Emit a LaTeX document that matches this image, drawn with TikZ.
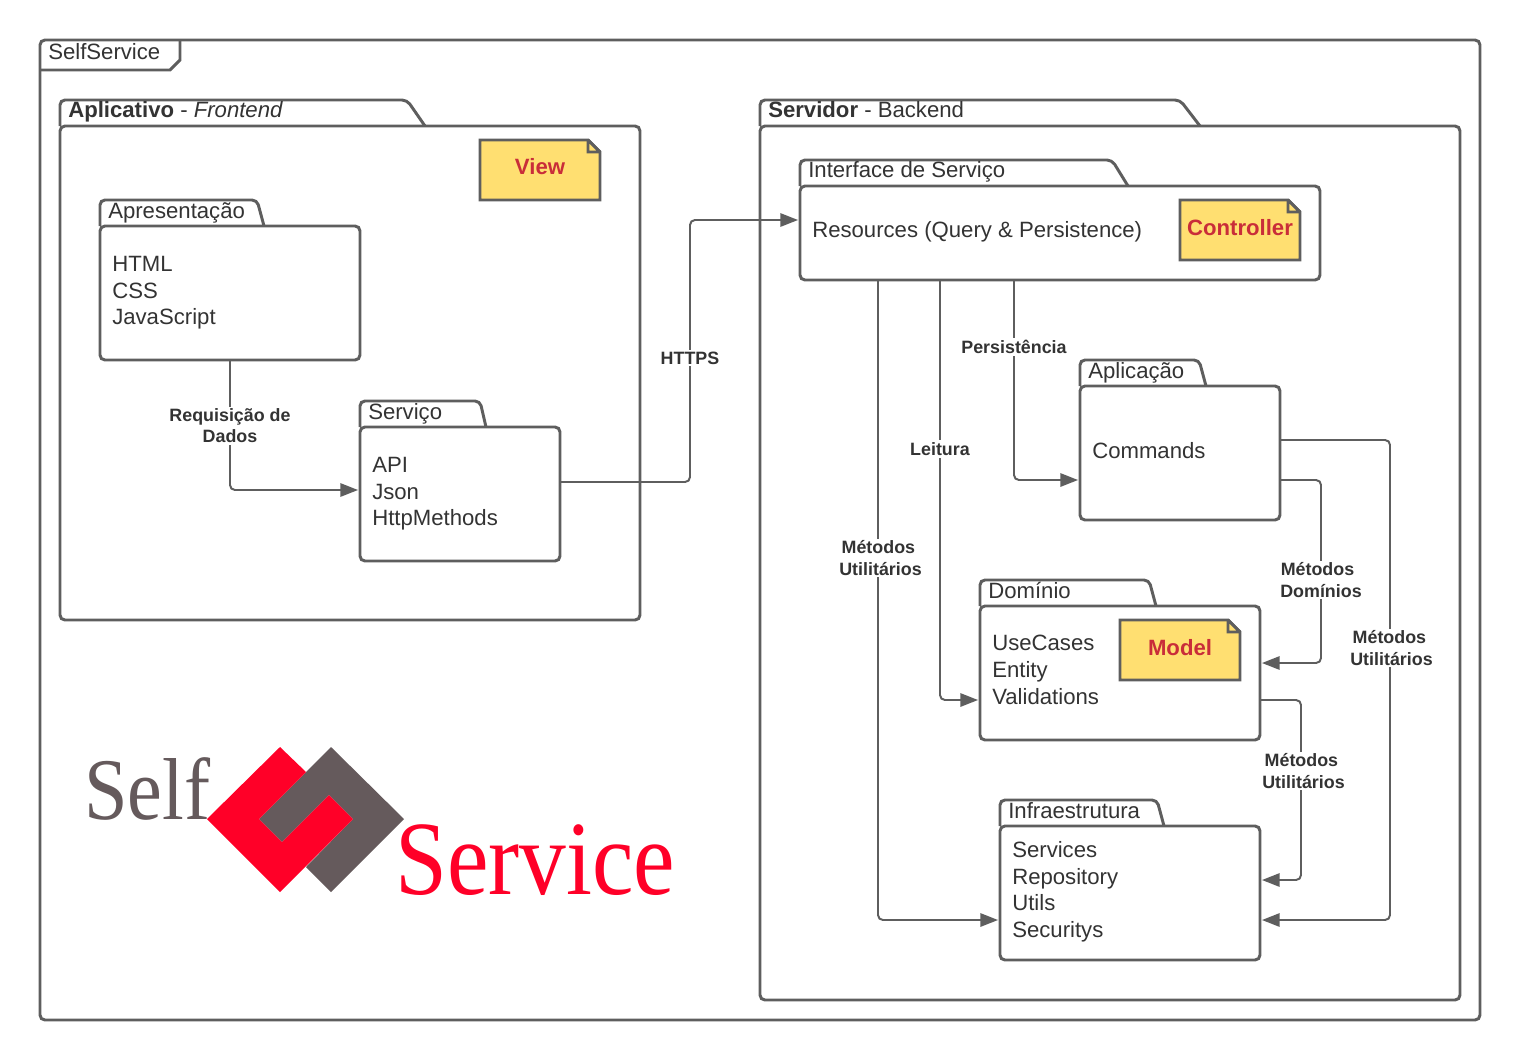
\documentclass[tikz,border=0pt]{standalone}
\usepackage{fontspec}
\setmainfont{Liberation Sans}
\newfontfamily\logofont{Liberation Serif}
\usetikzlibrary{arrows.meta}
\definecolor{linegray}{HTML}{5E5E5E}
\definecolor{textgray}{HTML}{333333}
\definecolor{noteyellow}{HTML}{FFDF71}
\definecolor{notered}{HTML}{C92D39}
\definecolor{logored}{HTML}{FF0028}
\definecolor{logogray}{HTML}{655A5C}
\def\px{0.025cm}
\begin{document}
\begin{tikzpicture}[x=0.025cm,y=-0.025cm]

    \tikzset{
      frame/.style={draw=linegray,line width=2.1pt,rounded corners=3.5pt,fill=white},
      body/.style={frame,rectangle,inner sep=0pt,outer sep=0pt,anchor=north west},
      title/.style={anchor=base west,inner sep=0pt,text=textgray,font=\fontsize{15.75}{19}\selectfont},
      items/.style={anchor=north west,inner sep=0pt,align=left,text=textgray,font=\fontsize{15.75}{19}\selectfont},
      note/.style={draw=linegray,line width=2.1pt,fill=noteyellow,miter limit=2},
      notetext/.style={inner sep=0pt,text=notered,font=\fontsize{15.75}{19}\selectfont\bfseries},
      conn/.style={draw=linegray,line width=1.4pt,rounded corners=3.5pt,shorten >=1.4pt,-{Triangle[length=12.6pt,width=9.5pt]}},
      lbl/.style={fill=white,inner sep=1.5pt,align=center,text=textgray,font=\fontsize{12.7}{15}\selectfont\bfseries},
    }
    \useasboundingbox (0,0) rectangle (1520,1060);

	\draw[frame] (40,40) rectangle (1480,1020);
	\draw[frame,rounded corners=0pt,fill=none] (40,70)--(170,70)--(180,60)--(180,40);
	\node[title] (selfservice) at (48,59.5) {SelfService};

	\draw[frame] (60,126)--(60,100)--(407,100)--(425,126);
	\node[body,minimum width=580*\px,minimum height=494*\px] (aplicativo) at (60,126) {};
	\node[title] (aplicativoT) at (68,117) {\textbf{Aplicativo} - \textit{Frontend}};

	\draw[frame] (760,126)--(760,100)--(1180,100)--(1200,126);
	\node[body,minimum width=700*\px,minimum height=874*\px] (servidor) at (760,126) {};
	\node[title] (servidorT) at (768,117) {\textbf{Servidor} - Backend};

	\draw[frame] (100,226)--(100,200)--(257,200)--(264,226);
	\node[body,minimum width=260*\px,minimum height=134*\px] (apresentacao) at (100,226) {};
	\node[title] (apresentacaoT) at (108,218) {Apresentação};
	\node[items] (apresentacaoL) at (112,256) {HTML\\CSS\\JavaScript};

	\draw[frame] (360,427)--(360,401)--(480,401)--(486,427);
	\node[body,minimum width=200*\px,minimum height=134*\px] (servico) at (360,427) {};
	\node[title] (servicoT) at (368,419) {Serviço};
	\node[items] (servicoL) at (372,457) {API\\Json\\HttpMethods};

	\draw[frame] (800,186)--(800,160)--(1112,160)--(1128,186);
	\node[body,minimum width=520*\px,minimum height=94*\px] (interface) at (800,186) {};
	\node[title] (interfaceT) at (808,177.5) {Interface de Serviço};
	\node[items] (interfaceL) at (812,221) {Resources (Query \& Persistence)};

	\draw[frame] (1080,386)--(1080,360)--(1199,360)--(1206,386);
	\node[body,minimum width=200*\px,minimum height=134*\px] (aplicacao) at (1080,386) {};
	\node[title] (aplicacaoT) at (1088,378) {Aplicação};
	\node[items] (aplicacaoL) at (1092,442) {Commands};

	\draw[frame] (980,606)--(980,580)--(1149,580)--(1156,606);
	\node[body,minimum width=280*\px,minimum height=134*\px] (dominio) at (980,606) {};
	\node[title] (dominioT) at (988,598) {Domínio};
	\node[items] (dominioL) at (992,635) {UseCases\\Entity\\Validations};

	\draw[frame] (1000,826)--(1000,800)--(1157,800)--(1164,826);
	\node[body,minimum width=260*\px,minimum height=134*\px] (infra) at (1000,826) {};
	\node[title] (infraT) at (1008,818) {Infraestrutura};
	\node[items] (infraL) at (1012,841) {Services\\Repository\\Utils\\Securitys};

	\draw[note] (480,140)--(588,140)--(600,152)--(600,200)--(480,200)--cycle;
	\draw[note] (588,140)--(588,152)--(600,152)--cycle;
	\node[notetext] (view) at (540,167) {View};
	\draw[note] (1180,200)--(1288,200)--(1300,212)--(1300,260)--(1180,260)--cycle;
	\draw[note] (1288,200)--(1288,212)--(1300,212)--cycle;
	\node[notetext] (controller) at (1240,228) {Controller};
	\draw[note] (1120,620)--(1228,620)--(1240,632)--(1240,680)--(1120,680)--cycle;
	\draw[note] (1228,620)--(1228,632)--(1240,632)--cycle;
	\node[notetext] (model) at (1180,648) {Model};

	\coordinate (httpsC) at (690,358);
	\coordinate (dominiosC) at (1321,580);
	\coordinate (utilA) at (1390,648);
	\coordinate (utilB) at (1301,770);

	\draw[conn] (apresentacao.south) |- ([yshift=4*\px]servico.west);
	\draw[conn] ([yshift=12*\px]servico.east) -| (httpsC) |- ([yshift=13*\px]interface.west);
	\draw[conn] ([xshift=-46*\px]interface.south) |- ([yshift=-27*\px]aplicacao.west);
	\draw[conn] ([xshift=-120*\px]interface.south) |- ([yshift=-27*\px]dominio.west);
	\draw[conn] ([xshift=-182*\px]interface.south) |- ([yshift=-27*\px]infra.west);
	\draw[conn] ([yshift=-27*\px]aplicacao.east) -| (dominiosC) |- ([yshift=10*\px]dominio.east);
	\draw[conn] ([yshift=13*\px]aplicacao.east) -| (utilA) |- ([yshift=-27*\px]infra.east);
	\draw[conn] ([yshift=-27*\px]dominio.east) -| (utilB) |- ([yshift=13*\px]infra.east);

	\node[lbl] (reqL) at (230,426) {Requisição de\\Dados};
	\node[lbl] (httpsL) at (httpsC) {HTTPS};
	\node[lbl] (persL) at (1014,347) {Persistência};
	\node[lbl] (leitL) at (940,449) {Leitura};
	\node[lbl] (utilL) at (880.5,558) {Métodos\kern3pt\\Utilitários};
	\node[lbl] (domL) at (dominiosC) {Métodos\kern5pt\\Domínios};
	\node[lbl] (utilAL) at (1391.5,648) {Métodos\kern3pt\\Utilitários};
	\node[lbl] (utilBL) at (1303.5,771) {Métodos\kern3pt\\Utilitários};

	\fill[logogray] (331,747)--(404,819)--(331,892)--(306,867)--(353,819)--(329,795)--(282,842)--(259,819)--(306,772)--cycle;
	\fill[logored] (207,819)--(280,747)--(306,772)--(259,819)--(282,842)--(329,795)--(353,819)--(280,892)--cycle;
	\node[anchor=base west,inner sep=0pt,xscale=0.89,text=logogray,font=\logofont\fontsize{62.5}{63}\selectfont] (logoself) at (84,819) {Self};
	\node[anchor=base west,inner sep=0pt,xscale=0.885,text=logored,font=\logofont\fontsize{75}{75}\selectfont] (logoservice) at (395,894) {Service};

\end{tikzpicture}
\end{document}
